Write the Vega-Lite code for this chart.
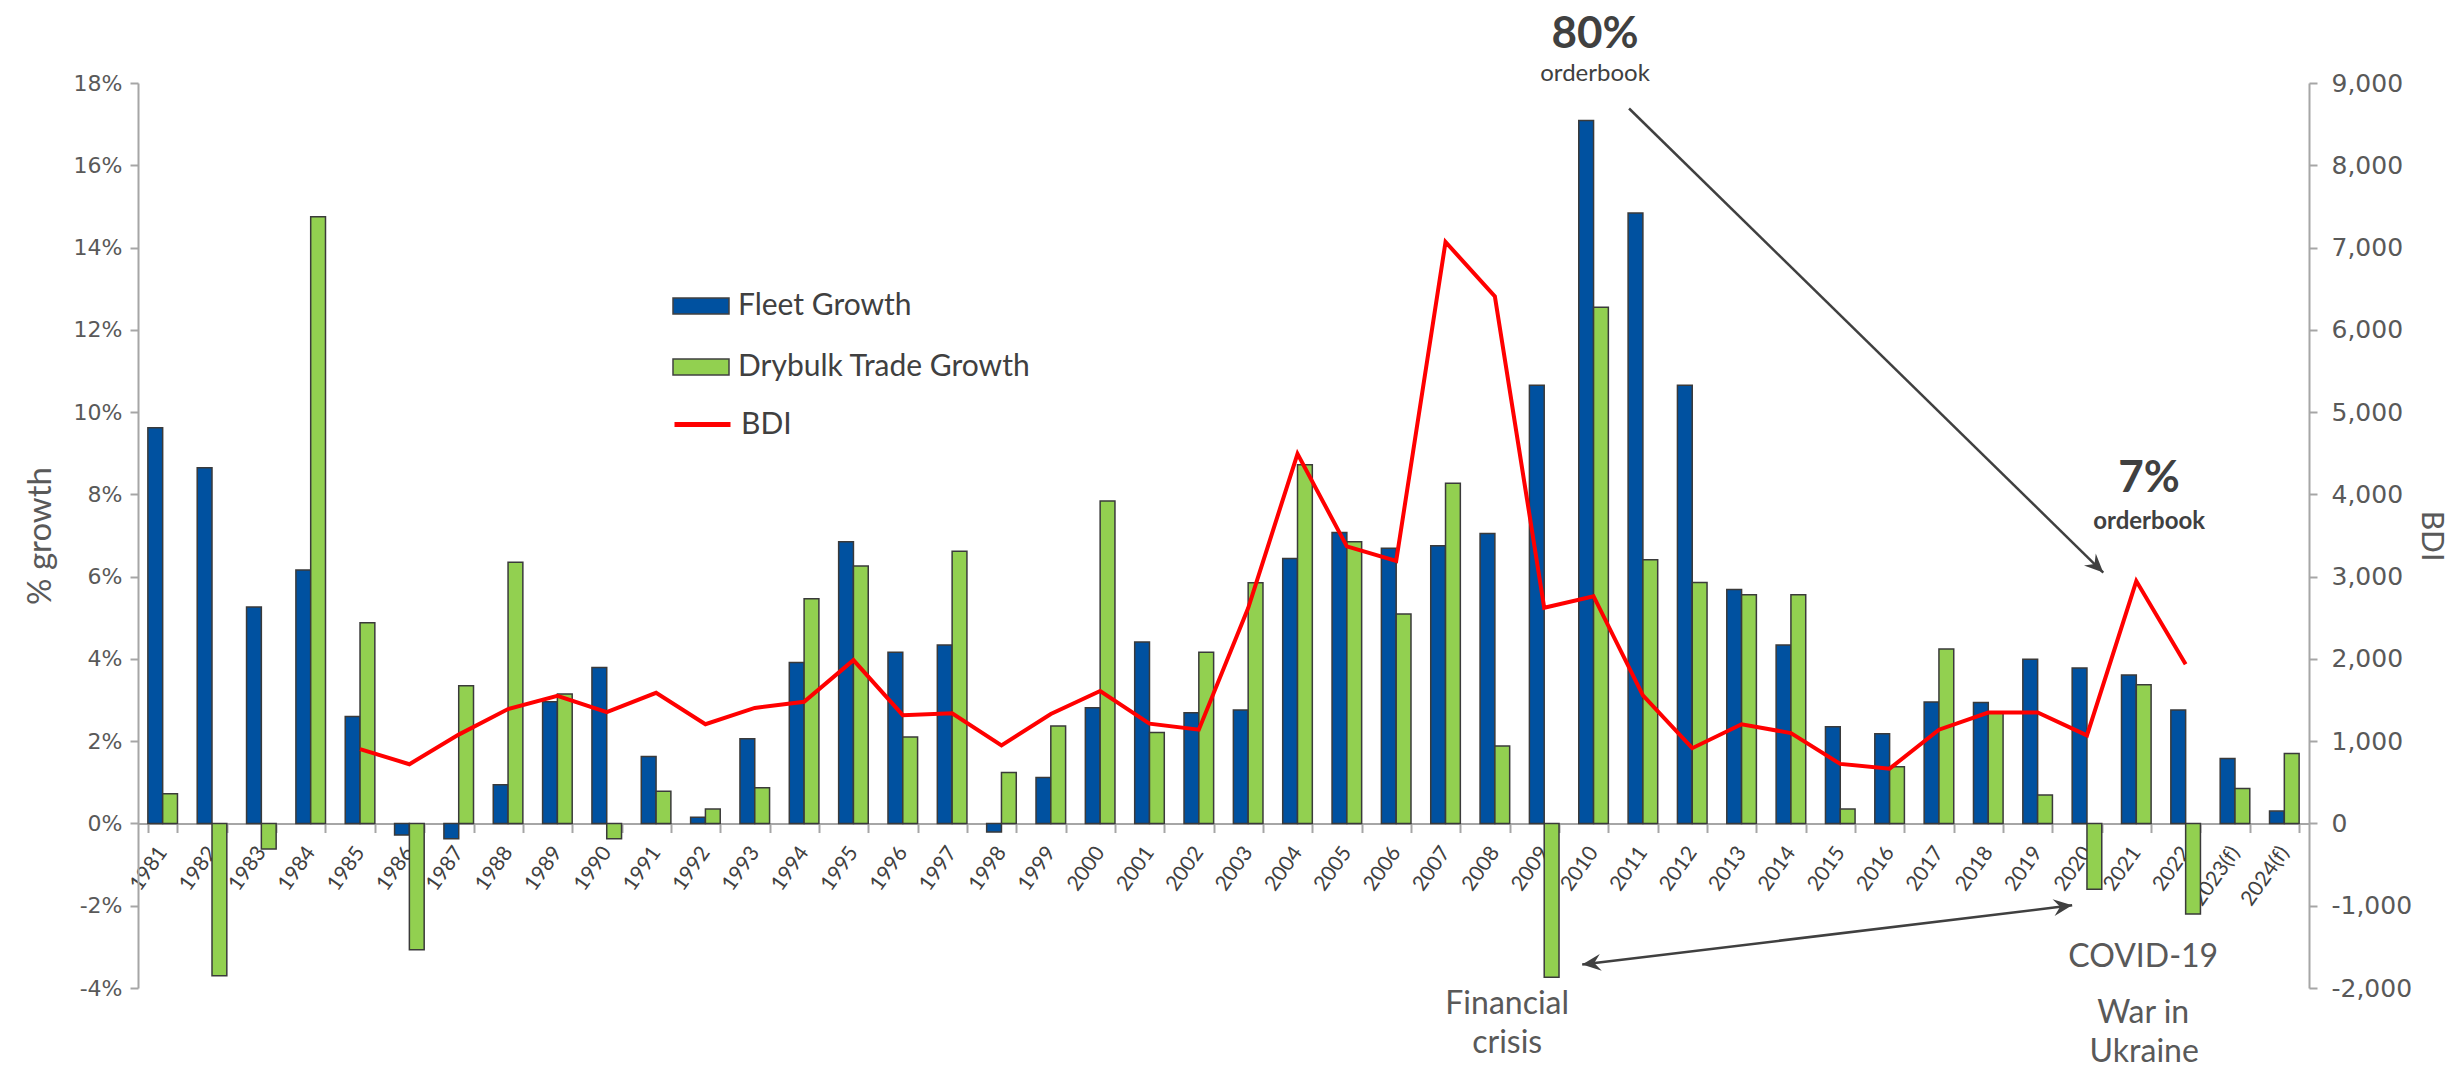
{
  "$schema": "https://vega.github.io/schema/vega-lite/v6.json",
  "width": 2171,
  "height": 905,
  "autosize": {"type": "none"},
  "padding": {"left": 138, "top": 83, "right": 149, "bottom": 85},
  "background": "white",
  "config": {"view": {"stroke": null}, "font": "Lato", "axis": {"grid": false}},
  "datasets": {
    "growth": [
      {"year": "1981", "series": "Fleet Growth", "pct": 9.62}, {"year": "1981", "series": "Drybulk Trade Growth", "pct": 0.72},
      {"year": "1982", "series": "Fleet Growth", "pct": 8.65}, {"year": "1982", "series": "Drybulk Trade Growth", "pct": -3.70},
      {"year": "1983", "series": "Fleet Growth", "pct": 5.26}, {"year": "1983", "series": "Drybulk Trade Growth", "pct": -0.62},
      {"year": "1984", "series": "Fleet Growth", "pct": 6.16}, {"year": "1984", "series": "Drybulk Trade Growth", "pct": 14.75},
      {"year": "1985", "series": "Fleet Growth", "pct": 2.60}, {"year": "1985", "series": "Drybulk Trade Growth", "pct": 4.88},
      {"year": "1986", "series": "Fleet Growth", "pct": -0.28}, {"year": "1986", "series": "Drybulk Trade Growth", "pct": -3.07},
      {"year": "1987", "series": "Fleet Growth", "pct": -0.37}, {"year": "1987", "series": "Drybulk Trade Growth", "pct": 3.35},
      {"year": "1988", "series": "Fleet Growth", "pct": 0.94}, {"year": "1988", "series": "Drybulk Trade Growth", "pct": 6.35},
      {"year": "1989", "series": "Fleet Growth", "pct": 2.96}, {"year": "1989", "series": "Drybulk Trade Growth", "pct": 3.15},
      {"year": "1990", "series": "Fleet Growth", "pct": 3.79}, {"year": "1990", "series": "Drybulk Trade Growth", "pct": -0.37},
      {"year": "1991", "series": "Fleet Growth", "pct": 1.63}, {"year": "1991", "series": "Drybulk Trade Growth", "pct": 0.78},
      {"year": "1992", "series": "Fleet Growth", "pct": 0.15}, {"year": "1992", "series": "Drybulk Trade Growth", "pct": 0.35},
      {"year": "1993", "series": "Fleet Growth", "pct": 2.06}, {"year": "1993", "series": "Drybulk Trade Growth", "pct": 0.87},
      {"year": "1994", "series": "Fleet Growth", "pct": 3.91}, {"year": "1994", "series": "Drybulk Trade Growth", "pct": 5.46},
      {"year": "1995", "series": "Fleet Growth", "pct": 6.85}, {"year": "1995", "series": "Drybulk Trade Growth", "pct": 6.26},
      {"year": "1996", "series": "Fleet Growth", "pct": 4.16}, {"year": "1996", "series": "Drybulk Trade Growth", "pct": 2.10},
      {"year": "1997", "series": "Fleet Growth", "pct": 4.34}, {"year": "1997", "series": "Drybulk Trade Growth", "pct": 6.62},
      {"year": "1998", "series": "Fleet Growth", "pct": -0.21}, {"year": "1998", "series": "Drybulk Trade Growth", "pct": 1.24},
      {"year": "1999", "series": "Fleet Growth", "pct": 1.12}, {"year": "1999", "series": "Drybulk Trade Growth", "pct": 2.37},
      {"year": "2000", "series": "Fleet Growth", "pct": 2.81}, {"year": "2000", "series": "Drybulk Trade Growth", "pct": 7.84},
      {"year": "2001", "series": "Fleet Growth", "pct": 4.41}, {"year": "2001", "series": "Drybulk Trade Growth", "pct": 2.21},
      {"year": "2002", "series": "Fleet Growth", "pct": 2.69}, {"year": "2002", "series": "Drybulk Trade Growth", "pct": 4.16},
      {"year": "2003", "series": "Fleet Growth", "pct": 2.76}, {"year": "2003", "series": "Drybulk Trade Growth", "pct": 5.85},
      {"year": "2004", "series": "Fleet Growth", "pct": 6.44}, {"year": "2004", "series": "Drybulk Trade Growth", "pct": 8.72},
      {"year": "2005", "series": "Fleet Growth", "pct": 7.07}, {"year": "2005", "series": "Drybulk Trade Growth", "pct": 6.85},
      {"year": "2006", "series": "Fleet Growth", "pct": 6.69}, {"year": "2006", "series": "Drybulk Trade Growth", "pct": 5.09},
      {"year": "2007", "series": "Fleet Growth", "pct": 6.75}, {"year": "2007", "series": "Drybulk Trade Growth", "pct": 8.27},
      {"year": "2008", "series": "Fleet Growth", "pct": 7.05}, {"year": "2008", "series": "Drybulk Trade Growth", "pct": 1.88},
      {"year": "2009", "series": "Fleet Growth", "pct": 10.65}, {"year": "2009", "series": "Drybulk Trade Growth", "pct": -3.74},
      {"year": "2010", "series": "Fleet Growth", "pct": 17.09}, {"year": "2010", "series": "Drybulk Trade Growth", "pct": 12.55},
      {"year": "2011", "series": "Fleet Growth", "pct": 14.84}, {"year": "2011", "series": "Drybulk Trade Growth", "pct": 6.41},
      {"year": "2012", "series": "Fleet Growth", "pct": 10.65}, {"year": "2012", "series": "Drybulk Trade Growth", "pct": 5.86},
      {"year": "2013", "series": "Fleet Growth", "pct": 5.69}, {"year": "2013", "series": "Drybulk Trade Growth", "pct": 5.56},
      {"year": "2014", "series": "Fleet Growth", "pct": 4.34}, {"year": "2014", "series": "Drybulk Trade Growth", "pct": 5.56},
      {"year": "2015", "series": "Fleet Growth", "pct": 2.35}, {"year": "2015", "series": "Drybulk Trade Growth", "pct": 0.35},
      {"year": "2016", "series": "Fleet Growth", "pct": 2.18}, {"year": "2016", "series": "Drybulk Trade Growth", "pct": 1.38},
      {"year": "2017", "series": "Fleet Growth", "pct": 2.95}, {"year": "2017", "series": "Drybulk Trade Growth", "pct": 4.24},
      {"year": "2018", "series": "Fleet Growth", "pct": 2.94}, {"year": "2018", "series": "Drybulk Trade Growth", "pct": 2.71},
      {"year": "2019", "series": "Fleet Growth", "pct": 3.99}, {"year": "2019", "series": "Drybulk Trade Growth", "pct": 0.69},
      {"year": "2020", "series": "Fleet Growth", "pct": 3.78}, {"year": "2020", "series": "Drybulk Trade Growth", "pct": -1.60},
      {"year": "2021", "series": "Fleet Growth", "pct": 3.61}, {"year": "2021", "series": "Drybulk Trade Growth", "pct": 3.37},
      {"year": "2022", "series": "Fleet Growth", "pct": 2.76}, {"year": "2022", "series": "Drybulk Trade Growth", "pct": -2.20},
      {"year": "2023(f)", "series": "Fleet Growth", "pct": 1.58}, {"year": "2023(f)", "series": "Drybulk Trade Growth", "pct": 0.85},
      {"year": "2024(f)", "series": "Fleet Growth", "pct": 0.30}, {"year": "2024(f)", "series": "Drybulk Trade Growth", "pct": 1.70}
    ],
    "bdi": [
      {"year": "1985", "bdi": 904}, {"year": "1986", "bdi": 720}, {"year": "1987", "bdi": 1080}, {"year": "1988", "bdi": 1390},
      {"year": "1989", "bdi": 1551}, {"year": "1990", "bdi": 1353}, {"year": "1991", "bdi": 1588}, {"year": "1992", "bdi": 1206},
      {"year": "1993", "bdi": 1404}, {"year": "1994", "bdi": 1478}, {"year": "1995", "bdi": 1985}, {"year": "1996", "bdi": 1316},
      {"year": "1997", "bdi": 1338}, {"year": "1998", "bdi": 949}, {"year": "1999", "bdi": 1331}, {"year": "2000", "bdi": 1610},
      {"year": "2001", "bdi": 1213}, {"year": "2002", "bdi": 1140}, {"year": "2003", "bdi": 2618}, {"year": "2004", "bdi": 4493},
      {"year": "2005", "bdi": 3368}, {"year": "2006", "bdi": 3191}, {"year": "2007", "bdi": 7068}, {"year": "2008", "bdi": 6406},
      {"year": "2009", "bdi": 2621}, {"year": "2010", "bdi": 2762}, {"year": "2011", "bdi": 1556}, {"year": "2012", "bdi": 915},
      {"year": "2013", "bdi": 1206}, {"year": "2014", "bdi": 1098}, {"year": "2015", "bdi": 724}, {"year": "2016", "bdi": 666},
      {"year": "2017", "bdi": 1140}, {"year": "2018", "bdi": 1348}, {"year": "2019", "bdi": 1348}, {"year": "2020", "bdi": 1070},
      {"year": "2021", "bdi": 2946}, {"year": "2022", "bdi": 1935}
    ]
  },
  "layer": [
    {
      "data": {"name": "growth"},
      "mark": {"type": "bar", "stroke": "#3a3a3a", "strokeWidth": 1.5},
      "encoding": {
        "x": {
          "field": "year", "type": "nominal", "sort": null,
          "scale": {"domain": ["1981","1982","1983","1984","1985","1986","1987","1988","1989","1990","1991","1992","1993","1994","1995","1996","1997","1998","1999","2000","2001","2002","2003","2004","2005","2006","2007","2008","2009","2010","2011","2012","2013","2014","2015","2016","2017","2018","2019","2020","2021","2022","2023(f)","2024(f)"], "paddingInner": 0.4, "paddingOuter": 0.2},
          "axis": {"title": null, "orient": "bottom", "offset": -164.5, "labelAngle": -55, "labelAlign": "right", "labelBaseline": "middle", "labelFont": "Lato", "labelFontSize": 21, "labelColor": "#404040", "labelPadding": 16, "tickSize": 9, "tickBand": "extent", "tickColor": "#a6a6a6", "tickWidth": 2, "domainColor": "#a6a6a6", "domainWidth": 2, "labelOverlap": false}
        },
        "xOffset": {"field": "series", "type": "nominal", "scale": {"domain": ["Fleet Growth", "Drybulk Trade Growth"], "paddingInner": 0, "paddingOuter": 0}},
        "y": {
          "field": "pct", "type": "quantitative", "stack": null,
          "scale": {"domain": [-4, 18], "nice": false},
          "axis": {"title": "% growth", "values": [-4,-2,0,2,4,6,8,10,12,14,16,18], "labelExpr": "datum.value + '%'", "labelFont": "DejaVu Sans", "labelFontSize": 22, "labelColor": "#595959", "labelPadding": 8, "titleFont": "Lato", "titleFontSize": 33, "titleFontWeight": "normal", "titleColor": "#595959", "titlePadding": 16, "tickSize": 8, "tickColor": "#a6a6a6", "tickWidth": 2, "domainColor": "#a6a6a6", "domainWidth": 2}
        },
        "color": {
          "field": "series", "type": "nominal",
          "scale": {"domain": ["Fleet Growth", "Drybulk Trade Growth"], "range": ["#0051A0", "#92D050"]},
          "legend": {
            "title": null, "orient": "none", "legendX": 534, "legendY": 194, "direction": "vertical", "padding": 0,
            "labelFont": "Lato", "labelFontSize": 30, "labelColor": "#404040", "labelOffset": 8, "labelLimit": 600,
            "symbolType": "M-1,-0.29H1V0.29H-1Z", "symbolSize": 3136, "rowPadding": 17, "symbolStrokeWidth": 1.5, "symbolStrokeColor": "#404040", "symbolOpacity": 1
          }
        }
      }
    },
    {
      "data": {"name": "bdi"},
      "mark": {"type": "line", "strokeWidth": 4},
      "encoding": {
        "x": {
          "field": "year", "type": "nominal", "sort": null,
          "scale": {"domain": ["1981","1982","1983","1984","1985","1986","1987","1988","1989","1990","1991","1992","1993","1994","1995","1996","1997","1998","1999","2000","2001","2002","2003","2004","2005","2006","2007","2008","2009","2010","2011","2012","2013","2014","2015","2016","2017","2018","2019","2020","2021","2022","2023(f)","2024(f)"], "paddingInner": 0.4, "paddingOuter": 0.2},
          "axis": null
        },
        "y": {
          "field": "bdi", "type": "quantitative",
          "scale": {"domain": [-2000, 9000], "nice": false},
          "axis": {"orient": "right", "title": "BDI", "values": [-2000,-1000,0,1000,2000,3000,4000,5000,6000,7000,8000,9000], "labelExpr": "replace(format(datum.value, ',.0f'), '\u2212', '-')", "labelFont": "DejaVu Sans", "labelFontSize": 25, "labelColor": "#595959", "labelPadding": 14, "titleFont": "Lato", "titleFontSize": 30, "titleFontWeight": "normal", "titleColor": "#595959", "titlePadding": 4, "tickSize": 8, "tickColor": "#a6a6a6", "tickWidth": 2, "domainColor": "#a6a6a6", "domainWidth": 2}
        },
        "stroke": {
          "datum": "BDI", "type": "nominal",
          "scale": {"domain": ["BDI"], "range": ["#FF0000"]},
          "legend": {
            "title": null, "orient": "none", "legendX": 534, "legendY": 311, "direction": "vertical", "padding": 0,
            "labelFont": "Lato", "labelFontSize": 30, "labelColor": "#404040", "labelOffset": 8,
            "symbolType": "stroke", "symbolSize": 3136, "symbolStrokeWidth": 5
          }
        }
      }
    },
    {
      "data": {"values": [{"yr": 2010.03, "pct": 18.86, "label": "80%"}, {"yr": 2021.26, "pct": 8.05, "label": "7%"}]},
      "mark": {"type": "text", "font": "Lato", "fontWeight": "bold", "fontSize": 44, "color": "#404040", "align": "center", "baseline": "alphabetic"},
      "encoding": {
        "x": {"field": "yr", "type": "quantitative", "scale": {"domain": [1980.5, 2024.5], "nice": false, "zero": false}, "axis": null},
        "y": {"field": "pct", "type": "quantitative", "scale": {"domain": [-4, 18], "nice": false, "zero": false}, "axis": null},
        "text": {"field": "label"}
      }
    },
    {
      "data": {"values": [{"yr": 2010.03, "pct": 18.04, "label": "orderbook"}]},
      "mark": {"type": "text", "font": "Lato", "fontSize": 24, "color": "#404040", "align": "center", "baseline": "alphabetic"},
      "encoding": {
        "x": {"field": "yr", "type": "quantitative", "scale": {"domain": [1980.5, 2024.5], "nice": false, "zero": false}, "axis": null},
        "y": {"field": "pct", "type": "quantitative", "scale": {"domain": [-4, 18], "nice": false, "zero": false}, "axis": null},
        "text": {"field": "label"}
      }
    },
    {
      "data": {"values": [{"yr": 2021.26, "pct": 7.15, "label": "orderbook"}]},
      "mark": {"type": "text", "font": "Lato", "fontWeight": "bold", "fontSize": 24, "color": "#404040", "align": "center", "baseline": "alphabetic"},
      "encoding": {
        "x": {"field": "yr", "type": "quantitative", "scale": {"domain": [1980.5, 2024.5], "nice": false, "zero": false}, "axis": null},
        "y": {"field": "pct", "type": "quantitative", "scale": {"domain": [-4, 18], "nice": false, "zero": false}, "axis": null},
        "text": {"field": "label"}
      }
    },
    {
      "data": {"values": [
        {"yr": 2008.25, "pct": -4.64, "label": "Financial"},
        {"yr": 2008.25, "pct": -5.57, "label": "crisis"},
        {"yr": 2021.14, "pct": -3.48, "label": "COVID-19"},
        {"yr": 2021.14, "pct": -4.84, "label": "War in"},
        {"yr": 2021.16, "pct": -5.81, "label": "Ukraine"}
      ]},
      "mark": {"type": "text", "font": "Lato", "fontSize": 32, "color": "#595959", "align": "center", "baseline": "alphabetic"},
      "encoding": {
        "x": {"field": "yr", "type": "quantitative", "scale": {"domain": [1980.5, 2024.5], "nice": false, "zero": false}, "axis": null},
        "y": {"field": "pct", "type": "quantitative", "scale": {"domain": [-4, 18], "nice": false, "zero": false}, "axis": null},
        "text": {"field": "label"}
      }
    },
    {
      "data": {"values": [
        {"yr": 2010.72, "pct": 17.38, "yr2": 2020.33, "pct2": 6.10},
        {"yr": 2009.77, "pct": -3.43, "yr2": 2019.70, "pct2": -1.99}
      ]},
      "mark": {"type": "rule", "color": "#404040", "strokeWidth": 2.5},
      "encoding": {
        "x": {"field": "yr", "type": "quantitative", "scale": {"domain": [1980.5, 2024.5], "nice": false, "zero": false}, "axis": null},
        "x2": {"field": "yr2"},
        "y": {"field": "pct", "type": "quantitative", "scale": {"domain": [-4, 18], "nice": false, "zero": false}, "axis": null},
        "y2": {"field": "pct2"}
      }
    },
    {
      "data": {"values": [{"yr": 2020.33, "pct": 6.10}]},
      "mark": {"type": "point", "shape": "M0,0L-1,-0.45L-0.65,0L-1,0.45Z", "filled": true, "size": 1400, "angle": 44.4, "color": "#404040", "opacity": 1},
      "encoding": {
        "x": {"field": "yr", "type": "quantitative", "scale": {"domain": [1980.5, 2024.5], "nice": false, "zero": false}, "axis": null},
        "y": {"field": "pct", "type": "quantitative", "scale": {"domain": [-4, 18], "nice": false, "zero": false}, "axis": null}
      }
    },
    {
      "data": {"values": [{"yr": 2019.70, "pct": -1.99}]},
      "mark": {"type": "point", "shape": "M0,0L-1,-0.45L-0.65,0L-1,0.45Z", "filled": true, "size": 1400, "angle": -6.9, "color": "#404040", "opacity": 1},
      "encoding": {
        "x": {"field": "yr", "type": "quantitative", "scale": {"domain": [1980.5, 2024.5], "nice": false, "zero": false}, "axis": null},
        "y": {"field": "pct", "type": "quantitative", "scale": {"domain": [-4, 18], "nice": false, "zero": false}, "axis": null}
      }
    },
    {
      "data": {"values": [{"yr": 2009.77, "pct": -3.43}]},
      "mark": {"type": "point", "shape": "M0,0L-1,-0.45L-0.65,0L-1,0.45Z", "filled": true, "size": 1400, "angle": 173.1, "color": "#404040", "opacity": 1},
      "encoding": {
        "x": {"field": "yr", "type": "quantitative", "scale": {"domain": [1980.5, 2024.5], "nice": false, "zero": false}, "axis": null},
        "y": {"field": "pct", "type": "quantitative", "scale": {"domain": [-4, 18], "nice": false, "zero": false}, "axis": null}
      }
    }
  ],
  "resolve": {"scale": {"x": "independent", "y": "independent"}}
}
